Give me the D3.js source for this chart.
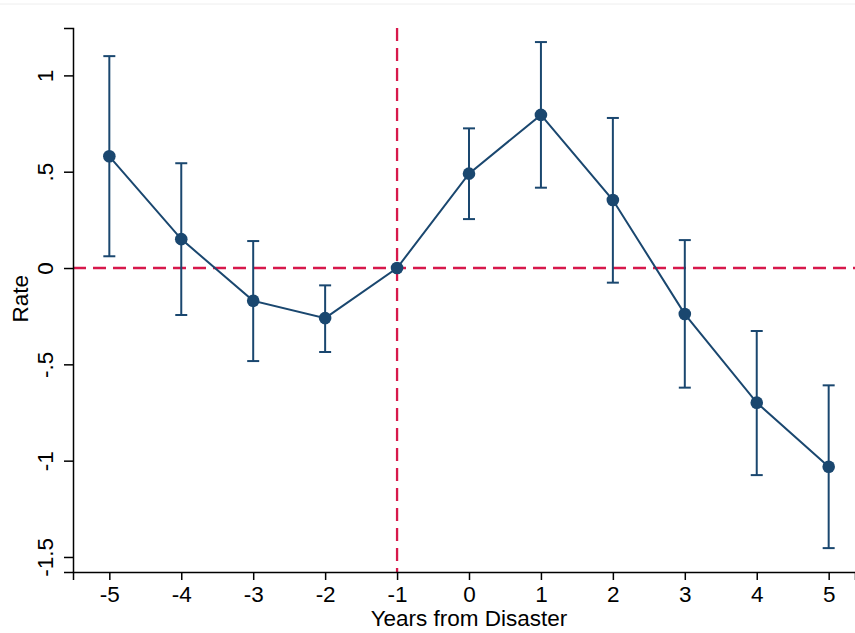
<!DOCTYPE html>
<html>
<head>
<meta charset="utf-8">
<script src="https://cdn.jsdelivr.net/npm/d3@7"></script>
<style>
  body { margin: 0; background: #fff; }
  text { font-family: "Liberation Sans", Arial, sans-serif; fill: #000; }
</style>
</head>
<body>
<svg></svg>
<script>
const years = [-5, -4, -3, -2, -1, 0, 1, 2, 3, 4, 5];
const rate = [0.58, 0.15, -0.17, -0.26, 0, 0.49, 0.795, 0.353, -0.239, -0.699, -1.032];
const upper = [1.10, 0.544, 0.14, -0.09, null, 0.725, 1.173, 0.779, 0.145, -0.327, -0.609];
const lower = [0.061, -0.244, -0.483, -0.436, null, 0.254, 0.417, -0.076, -0.621, -1.075, -1.454];
const yTicks = [1, 0.5, 0, -0.5, -1, -1.5];
const yTickLabels = ["1", ".5", "0", "-.5", "-1", "-1.5"];

const svgWidth = 855;
const svgHeight = 633;
const navy = "#1a476f";
const red = "#d7184b";
const fontSize = "22.5px";

const svg = d3.select("svg")
    .attr("width", svgWidth)
    .attr("height", svgHeight);

const x = d3.scaleLinear().domain([-5.505, 5.366]).range([73, 855]);
const y = d3.scaleLinear().domain([-1.578, 1.246]).range([572, 28]);

// faint top border
svg.append("line")
    .attr("x1", 0).attr("x2", svgWidth)
    .attr("y1", 4).attr("y2", 4)
    .attr("stroke", "#eeeeee").attr("stroke-width", 1);

// reference lines
svg.append("line")
    .attr("x1", x.range()[0]).attr("x2", x.range()[1])
    .attr("y1", y(0)).attr("y2", y(0))
    .attr("stroke", red).attr("stroke-width", 2.3)
    .attr("stroke-dasharray", "13,7");

svg.append("line")
    .attr("x1", x(-1)).attr("x2", x(-1))
    .attr("y1", y.range()[1]).attr("y2", y.range()[0])
    .attr("stroke", red).attr("stroke-width", 2.3)
    .attr("stroke-dasharray", "13,7");

// axes
const xAxis = svg.append("g")
    .attr("transform", "translate(0," + y.range()[0] + ")")
    .call(d3.axisBottom(x).tickValues(years).tickFormat(d3.format("d")).tickSizeOuter(0).tickSize(8).tickPadding(6));

const yAxis = svg.append("g")
    .attr("transform", "translate(" + x.range()[0] + ",0)")
    .call(d3.axisLeft(y).tickValues(yTicks).tickFormat((d, i) => yTickLabels[i]).tickSizeOuter(0).tickSize(9));

[xAxis, yAxis].forEach(a => {
    a.select(".domain").attr("stroke", "#000").attr("stroke-width", 1.5);
    a.selectAll(".tick line").attr("stroke", "#000").attr("stroke-width", 1.5);
    a.selectAll("text").style("font-size", fontSize).attr("fill", "#000")
        .style("font-family", "'Liberation Sans', Arial, sans-serif");
});
xAxis.selectAll("text").text(d => d < 0 ? "-" + Math.abs(d) : d);

yAxis.selectAll(".tick text")
    .attr("x", 0).attr("dy", 0)
    .attr("text-anchor", "middle")
    .attr("transform", "translate(-20,0) rotate(-90)");

// titles
svg.append("text")
    .attr("x", 469)
    .attr("y", 626)
    .attr("text-anchor", "middle")
    .style("font-size", fontSize)
    .text("Years from Disaster");

svg.append("text")
    .attr("transform", "translate(28," + y(-0.16) + ") rotate(-90)")
    .attr("text-anchor", "middle")
    .style("font-size", fontSize)
    .text("Rate");

// error bars
const data = years.map((d, i) => ({year: d, rate: rate[i], hi: upper[i], lo: lower[i]}));
const bars = data.filter(d => d.hi !== null);
const cap = 6;

const eb = svg.append("g").attr("stroke", navy).attr("stroke-width", 2);
eb.selectAll(".stem").data(bars).enter().append("line")
    .attr("x1", d => x(d.year)).attr("x2", d => x(d.year))
    .attr("y1", d => y(d.hi)).attr("y2", d => y(d.lo));
eb.selectAll(".capHi").data(bars).enter().append("line")
    .attr("x1", d => x(d.year) - cap).attr("x2", d => x(d.year) + cap)
    .attr("y1", d => y(d.hi)).attr("y2", d => y(d.hi));
eb.selectAll(".capLo").data(bars).enter().append("line")
    .attr("x1", d => x(d.year) - cap).attr("x2", d => x(d.year) + cap)
    .attr("y1", d => y(d.lo)).attr("y2", d => y(d.lo));

// connecting line
svg.append("path")
    .datum(data)
    .attr("fill", "none")
    .attr("stroke", navy)
    .attr("stroke-width", 2)
    .attr("d", d3.line().x(d => x(d.year)).y(d => y(d.rate)));

svg.selectAll(".pt").data(data).enter().append("circle")
    .attr("cx", d => x(d.year))
    .attr("cy", d => y(d.rate))
    .attr("r", 6.3)
    .attr("fill", navy);
</script>
</body>
</html>
